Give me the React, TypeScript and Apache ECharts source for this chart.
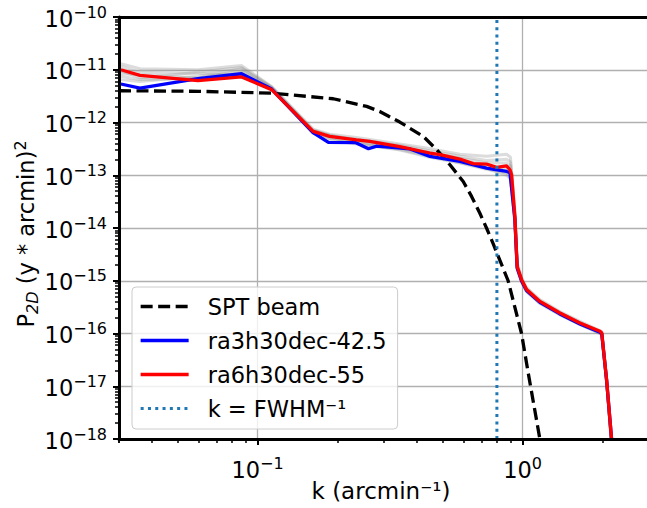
import React, { useEffect, useRef } from 'react';
import * as echarts from 'echarts';

const FONT = 'DejaVu Sans';

// axis ranges (real values)
const xRange = [0.03, 3.16];
const yRange = [1e-18, 1e-10];
const xMajorTicks = [0.1, 1];
const yMajorTicks = [1e-18, 1e-17, 1e-16, 1e-15, 1e-14, 1e-13, 1e-12, 1e-11, 1e-10];
const minorMantissas = [2, 3, 4, 5, 6, 7, 8, 9];
const xDecades = [0.01, 0.1, 1];
const yDecades = [1e-18, 1e-17, 1e-16, 1e-15, 1e-14, 1e-13, 1e-12, 1e-11];

// SPT beam (dashed)
const beamK = [0.03, 0.06, 0.113, 0.193, 0.258, 0.289, 0.344, 0.422, 0.474, 0.532, 0.597, 0.642, 0.69, 0.731, 0.775, 0.882, 0.991, 1.05, 1.162, 1.2];
const beamP = [4.0e-12, 3.9e-12, 3.6e-12, 2.82e-12, 2.02e-12, 1.62e-12, 1.02e-12, 5.45e-13, 3.05e-13, 1.58e-13, 7.6e-14, 3.97e-14, 1.9e-14, 1.0e-14, 5.0e-15, 1.0e-15, 1.0e-16, 1.8e-17, 1.0e-18, 3e-19];

// ra6h30dec-55 (red)
const redK = [0.0305, 0.036, 0.0596, 0.087, 0.113, 0.162, 0.187, 0.236, 0.265, 0.344, 0.447, 0.488, 0.58, 0.651, 0.731, 0.798, 0.87, 0.896, 0.909, 0.935, 0.954, 0.991, 1.035, 1.162, 1.383, 1.645, 1.958, 1.99, 2.075, 2.167, 2.19];
const redP = [1.0e-11, 7.8e-12, 6.2e-12, 7.3e-12, 4.2e-12, 6.8e-13, 5.45e-13, 4.7e-13, 4.4e-13, 3.5e-13, 2.64e-13, 2.45e-13, 2.03e-13, 1.66e-13, 1.63e-13, 1.41e-13, 1.5e-13, 1.27e-13, 1.02e-13, 1.66e-14, 1.87e-15, 1.05e-15, 6.8e-16, 4.06e-16, 2.45e-16, 1.58e-16, 1.1e-16, 1.02e-16, 1.33e-17, 1.0e-18, 4e-19];

// ra3h30dec-42.5 (blue)
const blueK = [0.0305, 0.036, 0.0596, 0.087, 0.113, 0.162, 0.185, 0.235, 0.262, 0.282, 0.376, 0.447, 0.58, 0.731, 0.87, 0.896, 0.935, 0.954, 0.991, 1.035, 1.162, 1.383, 1.645, 1.958, 1.99, 2.075, 2.167, 2.19];
const blueP = [5.37e-12, 4.5e-12, 6.76e-12, 8.4e-12, 4.3e-12, 6.4e-13, 4.2e-13, 4.14e-13, 3.18e-13, 3.56e-13, 3.15e-13, 2.28e-13, 1.83e-13, 1.37e-13, 1.18e-13, 1.12e-13, 1.5e-14, 1.75e-15, 1.0e-15, 6.5e-16, 3.9e-16, 2.35e-16, 1.52e-16, 1.06e-16, 0.98e-16, 1.3e-17, 1.0e-18, 4e-19];

// other realisations (grey)
const greyK = [0.0305, 0.036, 0.0596, 0.087, 0.113, 0.162, 0.187, 0.236, 0.344, 0.447, 0.58, 0.731, 0.87, 0.9, 0.935, 0.954, 0.991, 1.035, 1.162, 1.383, 1.645, 1.99, 2.075, 2.19];
const grey1 = [1.3e-11, 1.05e-11, 1.0e-11, 1.2e-11, 4.8e-12, 7.5e-13, 6.0e-13, 5.2e-13, 3.9e-13, 3.2e-13, 2.5e-13, 2.3e-13, 2.5e-13, 2.2e-13, 2.2e-14, 2.2e-15, 1.15e-15, 7.4e-16, 4.4e-16, 2.6e-16, 1.7e-16, 1.1e-16, 1.4e-17, 4e-19];
const grey2 = [8.5e-12, 8.0e-12, 7.0e-12, 9.5e-12, 4.5e-12, 6.5e-13, 5.0e-13, 4.3e-13, 3.3e-13, 2.5e-13, 1.9e-13, 1.5e-13, 1.3e-13, 1.1e-13, 1.5e-14, 1.8e-15, 1.0e-15, 6.6e-16, 3.9e-16, 2.4e-16, 1.55e-16, 1.0e-16, 1.3e-17, 4e-19];
const grey3 = [6.5e-12, 6.0e-12, 7.5e-12, 1.05e-11, 4.6e-12, 7.0e-13, 5.3e-13, 4.0e-13, 3.0e-13, 2.2e-13, 1.7e-13, 1.3e-13, 1.1e-13, 9.0e-14, 1.4e-14, 1.7e-15, 0.95e-15, 6.3e-16, 3.8e-16, 2.3e-16, 1.5e-16, 0.97e-16, 1.25e-17, 4e-19];
const grey4 = [1.15e-11, 9.0e-12, 8.5e-12, 8.0e-12, 4.4e-12, 7.2e-13, 5.6e-13, 4.8e-13, 3.7e-13, 2.9e-13, 2.3e-13, 1.9e-13, 2.0e-13, 1.8e-13, 2.0e-14, 2.0e-15, 1.1e-15, 7.1e-16, 4.2e-16, 2.5e-16, 1.62e-16, 1.05e-16, 1.35e-17, 4e-19];
const grey5 = [7.5e-12, 6.5e-12, 6.8e-12, 8.8e-12, 4.3e-12, 6.2e-13, 4.7e-13, 3.9e-13, 3.1e-13, 2.3e-13, 1.75e-13, 1.35e-13, 1.0e-13, 8.5e-14, 1.3e-14, 1.65e-15, 0.93e-15, 6.2e-16, 3.7e-16, 2.25e-16, 1.48e-16, 0.96e-16, 1.22e-17, 4e-19];
const grey6 = [9.5e-12, 7.0e-12, 9.0e-12, 1.1e-11, 4.7e-12, 6.9e-13, 5.8e-13, 4.5e-13, 3.4e-13, 2.7e-13, 2.1e-13, 1.7e-13, 1.7e-13, 1.5e-13, 1.8e-14, 1.9e-15, 1.05e-15, 6.9e-16, 4.1e-16, 2.45e-16, 1.6e-16, 1.03e-16, 1.32e-17, 4e-19];
const greySets = [grey1, grey2, grey3, grey4, grey5, grey6];

// k = FWHM^-1
const kFwhm = 0.8;

const seriesNames = ['SPT beam', 'ra3h30dec-42.5', 'ra6h30dec-55', 'k = FWHM⁻¹'];
const seriesColors = ['#000000', '#0000ff', '#ff0000', '#1f77b4'];

const L = Math.log10;
const pts = (k: number[], p: number[]) => k.map((kk, i) => [L(kk), L(p[i])]);

const xMin = L(xRange[0]);
const xMax = L(xRange[1]);
const yMin = L(yRange[0]);
const yMax = L(yRange[1]);

const xMinor: number[] = [];
xDecades.forEach((d) => minorMantissas.forEach((m) => {
  const v = L(m * d);
  if (v >= xMin - 1e-9 && v <= xMax) xMinor.push(v);
}));
xMinor.push(xMin);
const yMinor: number[] = [];
yDecades.forEach((d) => minorMantissas.forEach((m) => yMinor.push(L(m * d))));

const supRich = {
  b: { fontSize: 22.5, fontFamily: FONT, color: '#000', lineHeight: 26, verticalAlign: 'bottom' },
  s: { fontSize: 16, fontFamily: FONT, color: '#000', lineHeight: 16, verticalAlign: 'top' },
};
const powLabel = (v: number) => {
  const e = Math.round(v);
  const t = e < 0 ? '−' + Math.abs(e) : String(e);
  return `{b|10}{s|${t}}`;
};

export default function App() {
  const ref = useRef<HTMLDivElement>(null);
  useEffect(() => {
    if (!ref.current) return;
    const chart = echarts.init(ref.current, undefined, { renderer: 'svg' });
    const gridIdx = { xAxisIndex: 0, yAxisIndex: 0 };
    const series: any[] = [];
    greySets.forEach((g, i) => {
      series.push({
        type: 'line', name: 'grey' + i, ...gridIdx, data: pts(greyK, g), showSymbol: false, symbol: 'none',
        color: '#999', lineStyle: { color: 'rgba(128,128,128,0.28)', width: 3 }, z: 1, silent: true,
      });
    });
    const main = [
      { k: beamK, p: beamP, type: [12, 5.5] as any, width: 3.3 },
      { k: blueK, p: blueP, type: 'solid', width: 3.3 },
      { k: redK, p: redP, type: 'solid', width: 3.3 },
    ];
    main.forEach((m, i) => {
      series.push({
        type: 'line', name: seriesNames[i], ...gridIdx, data: pts(m.k, m.p), symbol: 'none', showSymbol: false,
        color: seriesColors[i], itemStyle: { color: seriesColors[i] },
        lineStyle: { color: seriesColors[i], width: m.width, type: m.type }, z: 3,
      });
    });
    series.push({
      type: 'line', name: seriesNames[3], ...gridIdx, data: [[L(kFwhm), yMin], [L(kFwhm), yMax]], symbol: 'none', showSymbol: false,
      color: seriesColors[3], itemStyle: { color: seriesColors[3] },
      lineStyle: { color: seriesColors[3], width: 3, type: [3, 4.3] }, z: 3,
    });

    const baseX = { type: 'value', min: xMin, max: xMax, gridIndex: 0 };
    const baseY = { type: 'value', min: yMin, max: yMax, gridIndex: 0 };
    const hiddenLine = { show: false, onZero: false };
    const spine = { show: true, onZero: false, lineStyle: { color: '#000', width: 3 } };
    const option: any = {
      animation: false,
      backgroundColor: '#ffffff',
      textStyle: { fontFamily: FONT },
      grid: { left: 119, top: 17, width: 536, height: 422, containLabel: false, outerBoundsMode: 'none' },
      legend: {
        data: seriesNames,
        orient: 'vertical',
        left: 132,
        top: 287,
        padding: [8, 11, 9, 7],
        itemWidth: 48,
        itemHeight: 14,
        itemGap: 11,
        backgroundColor: 'rgba(255,255,255,0.8)',
        borderColor: '#cccccc',
        borderWidth: 1,
        borderRadius: 4,
        itemStyle: { opacity: 0, borderWidth: 0 },
        lineStyle: { width: 'inherit', opacity: 1 },
        textStyle: { fontFamily: FONT, fontSize: 22.5, color: '#000', padding: [0, 0, 0, 14] },
        z: 10,
      },
      xAxis: [
        {
          ...baseX, position: 'bottom',
          axisLine: hiddenLine,
          axisTick: { show: true, customValues: xMajorTicks.map(L), length: 6, lineStyle: { color: '#000', width: 2 } },
          axisLabel: { show: true, customValues: xMajorTicks.map(L), margin: 16, formatter: powLabel, rich: supRich },
          splitLine: { show: true, lineStyle: { color: '#b0b0b0', width: 1.3 } },
          name: 'k (arcmin⁻¹)', nameLocation: 'middle', nameGap: 40, nameMoveOverlap: false,
          nameTextStyle: { fontFamily: FONT, fontSize: 23, color: '#000', padding: [0, 12, 0, 0] },
        },
        {
          ...baseX, position: 'bottom',
          axisLine: hiddenLine,
          axisTick: { show: true, customValues: xMinor, length: 4, lineStyle: { color: '#000', width: 1.5 } },
          axisLabel: { show: false }, splitLine: { show: false },
        },
        {
          ...baseX, position: 'top', z: 5,
          axisLine: spine,
          axisTick: { show: false }, axisLabel: { show: false }, splitLine: { show: false },
        },
        {
          ...baseX, position: 'bottom', z: 5,
          axisLine: spine,
          axisTick: { show: false }, axisLabel: { show: false }, splitLine: { show: false },
        },
      ],
      yAxis: [
        {
          ...baseY, position: 'left',
          axisLine: hiddenLine,
          axisTick: { show: true, customValues: yMajorTicks.map(L), length: 6, lineStyle: { color: '#000', width: 2 } },
          axisLabel: { show: true, customValues: yMajorTicks.map(L), margin: 12, formatter: powLabel, rich: supRich },
          splitLine: { show: true, lineStyle: { color: '#b0b0b0', width: 1.3 } },
          name: '{p|P}{sub|2D}{p| (y * arcmin)}{sup|2}', nameLocation: 'middle', nameGap: 79, nameRotate: 90,
          nameMoveOverlap: false,
          nameTextStyle: {
            fontFamily: FONT, fontSize: 22.5, color: '#000', padding: [0, 12, 0, 0],
            rich: {
              p: { fontFamily: FONT, fontSize: 22.5, color: '#000', lineHeight: 28, verticalAlign: 'middle' },
              sub: { fontFamily: FONT, fontSize: 16, fontStyle: 'italic', color: '#000', lineHeight: 16, verticalAlign: 'bottom' },
              sup: { fontFamily: FONT, fontSize: 16, color: '#000', lineHeight: 16, verticalAlign: 'top' },
            },
          },
        },
        {
          ...baseY, position: 'left',
          axisLine: hiddenLine,
          axisTick: { show: true, customValues: yMinor, length: 4, lineStyle: { color: '#000', width: 1.5 } },
          axisLabel: { show: false }, splitLine: { show: false },
        },
        {
          ...baseY, position: 'left', z: 5,
          axisLine: spine,
          axisTick: { show: false }, axisLabel: { show: false }, splitLine: { show: false },
        },
      ],
      series,
    };
    chart.setOption(option);
    return () => chart.dispose();
  }, []);
  return <div ref={ref} style={{ position: 'absolute', left: 0, top: 0, width: 647, height: 508 }} />;
}
